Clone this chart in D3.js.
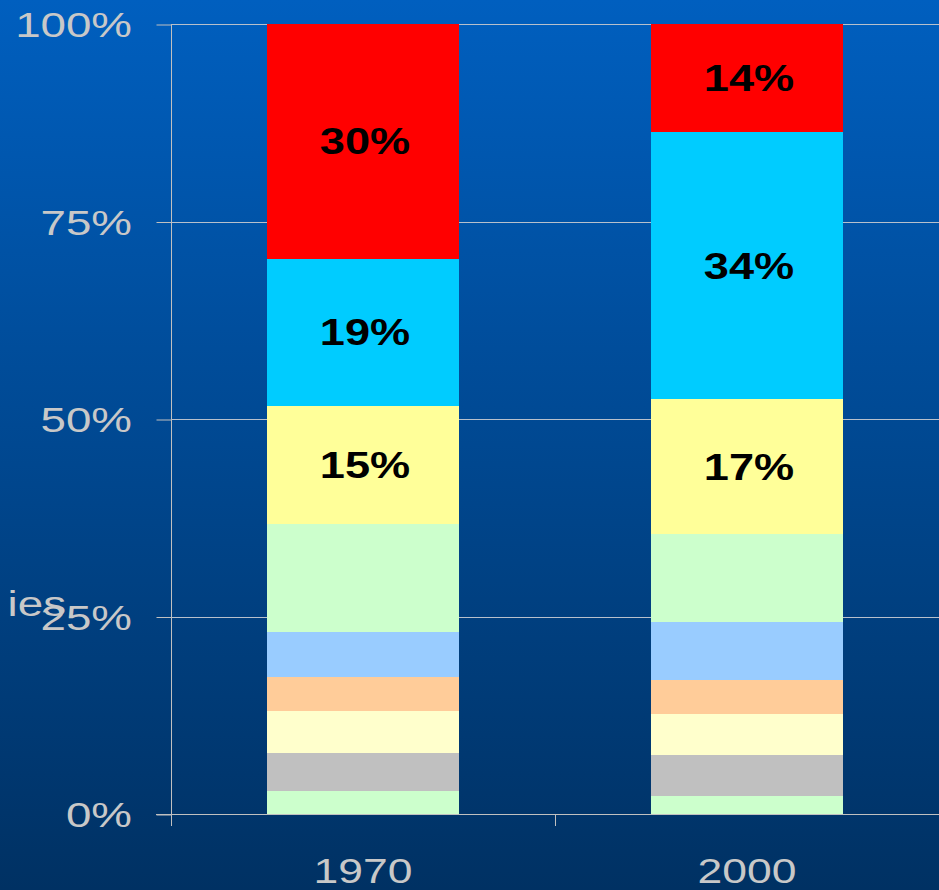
<!DOCTYPE html>
<html>
<head>
<meta charset="utf-8">
<script src="https://cdn.jsdelivr.net/npm/d3@7"></script>
<style>
  html, body { margin: 0; padding: 0; overflow: hidden; }
  svg { display: block; }
</style>
</head>
<body>
<div id="chart"></div>
<script>
var years = ['1970', '2000'];
var segments = ['s1', 's2', 's3', 's4', 's5', 's6', 's7', 's8', 's9'];
var segmentColors = ['#ccffcc', '#c0c0c0', '#ffffcc', '#ffcc99', '#99ccff', '#ccffcc', '#ffff99', '#00ccff', '#ff0000'];
var values1970 = [2.9, 4.8, 5.3, 4.3, 5.8, 13.6, 14.9, 18.7, 29.7];
var values2000 = [2.3, 5.2, 5.2, 4.3, 7.3, 11.1, 17.1, 33.8, 13.7];
var barLabels1970 = ['', '', '', '', '', '', '15%', '19%', '30%'];
var barLabels2000 = ['', '', '', '', '', '', '17%', '34%', '14%'];
var yTicks = [0, 0.25, 0.5, 0.75, 1];
var sideText = 'ies';

var w = 939,
    h = 890;
var margin = { top: 24, left: 171, bottom: 76 };

// build table rows from the arrays
var table = years.map(function(yr, i) {
  var vals = i === 0 ? values1970 : values2000;
  var row = { year: yr };
  segments.forEach(function(k, j) { row[k] = vals[j]; });
  return row;
});
var labelsByYear = { '1970': barLabels1970, '2000': barLabels2000 };

function translation(x, y) {
  return 'translate(' + x + ',' + y + ')';
}

var svg = d3.select('#chart').append('svg')
  .attr('width', w)
  .attr('height', h);

var grad = svg.append('defs').append('linearGradient')
  .attr('id', 'bg')
  .attr('x1', 0).attr('y1', 0).attr('x2', 0).attr('y2', 1);
grad.append('stop').attr('offset', '0%').attr('stop-color', '#005fbf');
grad.append('stop').attr('offset', '100%').attr('stop-color', '#003163');

svg.append('rect')
  .attr('width', w)
  .attr('height', h)
  .attr('fill', 'url(#bg)');

var xScale = d3.scaleBand()
  .domain(years)
  .range([margin.left, w])
  .paddingInner(0.5)
  .paddingOuter(0.25);

var yScale = d3.scaleLinear()
  .domain([0, 1])
  .range([h - margin.bottom, margin.top]);

var stacked = d3.stack()
  .keys(segments)
  .offset(d3.stackOffsetExpand)(table);

var stretch = 1.27;

// gridlines
svg.append('g')
  .selectAll('line')
  .data(yTicks.slice(1))
  .enter().append('line')
    .attr('x1', margin.left)
    .attr('x2', w)
    .attr('y1', function(d) { return Math.round(yScale(d)) + 0.5; })
    .attr('y2', function(d) { return Math.round(yScale(d)) + 0.5; })
    .attr('stroke', '#b8c0cc')
    .attr('stroke-width', 1);

// y axis
var yAxis = d3.axisLeft(yScale)
  .tickValues(yTicks)
  .tickSize(15)
  .tickFormat('');
var yAxisG = svg.append('g')
  .attr('transform', translation(margin.left + 0.5, 0.5))
  .call(yAxis);
yAxisG.select('.domain').remove();
yAxisG.selectAll('.tick line').attr('stroke', '#c0c0c0');
svg.append('line')
  .attr('x1', margin.left + 0.5).attr('x2', margin.left + 0.5)
  .attr('y1', yScale(1)).attr('y2', yScale(0) + 12)
  .attr('stroke', '#c0c0c0');

// y tick labels (stretched horizontally)
svg.append('g')
  .selectAll('text')
  .data(yTicks)
  .enter().append('text')
    .attr('transform', function(d) { return translation(132, yScale(d) + 13) + ' scale(' + stretch + ',1)'; })
    .attr('text-anchor', 'end')
    .attr('font-family', 'Liberation Sans, Arial, sans-serif')
    .attr('font-size', 36)
    .attr('fill', '#c8c8c8')
    .text(function(d) { return d3.format('.0%')(d); });

// leftover of a clipped title, as in the original slide
svg.append('text')
  .attr('transform', translation(66, yScale(0.25) - 1) + ' scale(' + stretch + ',1)')
  .attr('text-anchor', 'end')
  .attr('font-family', 'Liberation Sans, Arial, sans-serif')
  .attr('font-size', 36)
  .attr('fill', '#c8c8c8')
  .text(sideText);

// bars
var layers = svg.append('g')
  .selectAll('g')
  .data(stacked)
  .enter().append('g')
    .attr('fill', function(d, i) { return segmentColors[i]; });

layers.selectAll('rect')
  .data(function(d) { return d; })
  .enter().append('rect')
    .attr('x', function(d) { return Math.round(xScale(d.data.year)); })
    .attr('y', function(d) { return Math.round(yScale(d[1])); })
    .attr('width', Math.round(xScale.bandwidth()))
    .attr('height', function(d) { return Math.round(yScale(d[0])) - Math.round(yScale(d[1])); })
    .attr('shape-rendering', 'crispEdges');

// x axis
svg.append('line')
  .attr('x1', 156).attr('x2', w)
  .attr('y1', Math.round(yScale(0)) + 0.5).attr('y2', Math.round(yScale(0)) + 0.5)
  .attr('stroke', '#c0c0c0');

var step = xScale.step();
svg.append('g')
  .selectAll('line')
  .data(years)
  .enter().append('line')
    .attr('x1', function(d) { return Math.round(xScale(d) - step / 4) + 0.5; })
    .attr('x2', function(d) { return Math.round(xScale(d) - step / 4) + 0.5; })
    .attr('y1', yScale(0))
    .attr('y2', yScale(0) + 12)
    .attr('stroke', '#c0c0c0');

svg.append('g')
  .selectAll('text')
  .data(years)
  .enter().append('text')
    .attr('transform', function(d) { return translation(xScale(d) + xScale.bandwidth() / 2, 883) + ' scale(' + stretch + ',1)'; })
    .attr('text-anchor', 'middle')
    .attr('font-family', 'Liberation Sans, Arial, sans-serif')
    .attr('font-size', 35)
    .attr('fill', '#c8c8c8')
    .text(function(d) { return d; });

// bar value labels
layers.each(function(layer, i) {
  d3.select(this).selectAll('text')
    .data(layer.filter(function(d) { return labelsByYear[d.data.year][i] !== ''; }))
    .enter().append('text')
      .attr('transform', function(d) {
        var cy = (yScale(d[0]) + yScale(d[1])) / 2 + 13;
        return translation(xScale(d.data.year) + xScale.bandwidth() / 2 + 2, cy) + ' scale(1.22,1)';
      })
      .attr('text-anchor', 'middle')
      .attr('font-family', 'Liberation Sans, Arial, sans-serif')
      .attr('font-weight', 'bold')
      .attr('font-size', 37)
      .attr('fill', '#000')
      .text(function(d) { return labelsByYear[d.data.year][i]; });
});
</script>
</body>
</html>
